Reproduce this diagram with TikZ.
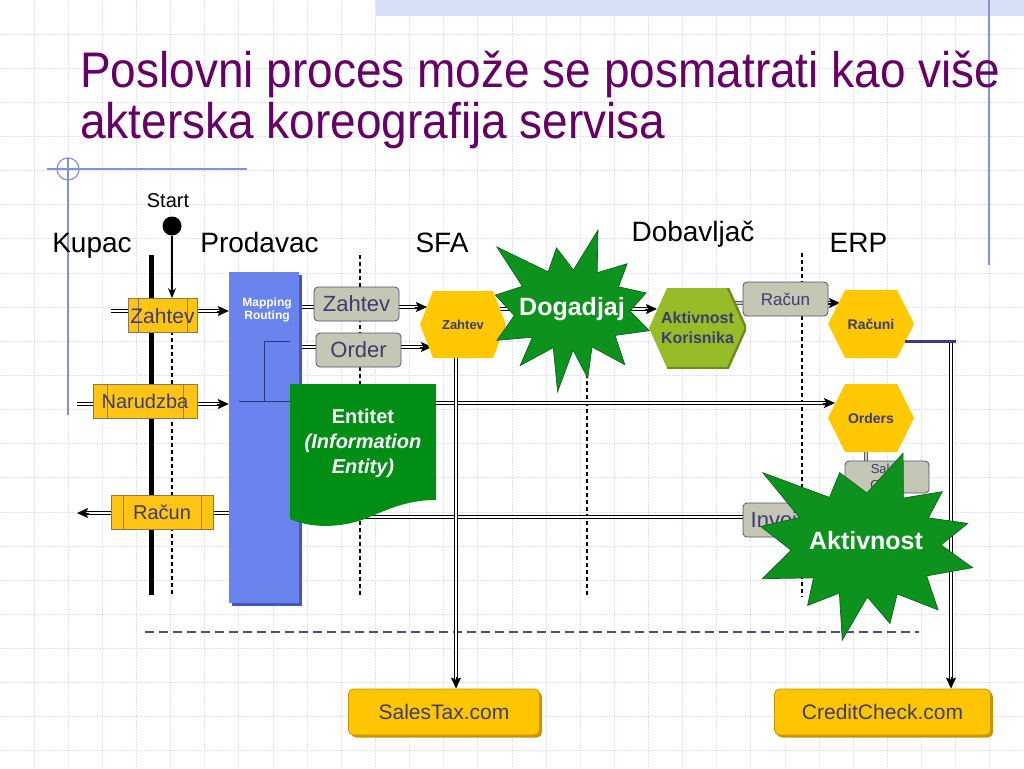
\documentclass[tikz,border=0pt]{standalone}
\usepackage{fontspec}
\setmainfont{Liberation Sans}
\usetikzlibrary{arrows.meta,calc}
\pgfdeclarelayer{gridl}
\pgfdeclarelayer{conn}
\pgfsetlayers{gridl,conn,main}
\definecolor{titlepurple}{RGB}{102,0,102}
\definecolor{gridc}{RGB}{224,224,242}
\definecolor{bandc}{RGB}{214,224,246}
\definecolor{decob}{RGB}{130,146,226}
\definecolor{boxy}{RGB}{255,196,20}
\definecolor{boxyb}{RGB}{140,120,80}
\definecolor{hexy}{RGB}{255,200,0}
\definecolor{grayb}{RGB}{198,198,180}
\definecolor{grayd}{RGB}{80,80,120}
\definecolor{txt}{RGB}{60,60,112}
\definecolor{mapb}{RGB}{106,132,238}
\definecolor{mapd}{RGB}{70,88,190}
\definecolor{mapl}{RGB}{40,55,140}
\definecolor{starg}{RGB}{14,146,30}
\definecolor{stard}{RGB}{10,100,25}
\definecolor{entg}{RGB}{0,142,20}
\definecolor{hexg}{RGB}{150,188,40}
\definecolor{hexgd}{RGB}{110,140,30}
\definecolor{svcy}{RGB}{255,198,0}
\definecolor{svcd}{RGB}{196,150,0}
\definecolor{erpb}{RGB}{58,58,140}
\definecolor{hdash}{RGB}{80,80,112}
\newcommand\myhex[2]{\fill[#1] ([xshift=#2]path picture bounding box.north west) -- ([xshift=-#2]path picture bounding box.north east) -- (path picture bounding box.east) -- ([xshift=-#2]path picture bounding box.south east) -- ([xshift=#2]path picture bounding box.south west) -- (path picture bounding box.west) -- cycle;}
\newcommand\myhexb[3]{\fill[#1] ([xshift=#3]path picture bounding box.north west) -- ([xshift=-#3]path picture bounding box.north east) -- (path picture bounding box.east) -- ([xshift=-#3]path picture bounding box.south east) -- ([xshift=#3]path picture bounding box.south west) -- (path picture bounding box.west) -- cycle;
\draw[#2,line width=2.4pt] ([xshift=-#3]path picture bounding box.north east) -- (path picture bounding box.east) -- ([xshift=-#3]path picture bounding box.south east) -- ([xshift=#3]path picture bounding box.south west);}
\newcommand\dblarr[2]{\draw[dbl,shorten >=7pt] (#1) -- (#2); \draw[tipst] ($(#2)!12pt!(#1)$) -- (#2);}
\tikzset{
  gridline/.style={gridc,line width=0.9pt,dash pattern=on 2pt off 1pt},
  lbl/.style={font=\fontsize{28}{30}\selectfont,anchor=base,inner sep=0pt},
  ybox/.style={draw=boxyb,fill=boxy,line width=0.8pt,text=txt,inner sep=0pt,
    font=\fontsize{20}{22}\selectfont,minimum height=34pt,
    path picture={\draw[boxyb,line width=0.8pt] ([xshift=#1]path picture bounding box.north west) -- ([xshift=#1]path picture bounding box.south west) ([xshift=-#1]path picture bounding box.north east) -- ([xshift=-#1]path picture bounding box.south east);}},
  gbox/.style={draw=grayd,fill=grayb,rounded corners=4pt,line width=0.8pt,text=txt,inner sep=0pt,minimum width=85pt,minimum height=34pt,font=\fontsize{22}{24}\selectfont},
  hexn/.style={inner sep=0pt,text=txt,align=center,font=\bfseries\fontsize{14}{17}\selectfont},
  svc/.style={fill=svcy,draw=svcd,line width=0.8pt,rounded corners=5pt,text=txt,inner sep=0pt,
    font=\fontsize{21}{23}\selectfont,minimum height=46pt,
    preaction={fill=svcd,transform canvas={shift={(2.5pt,-2.5pt)}}}},
  dbl/.style={draw=black,line width=1pt,double=white,double distance=1.4pt},
  dblg/.style={draw=black!65,line width=1pt,double=white!80!black,double distance=1.4pt},
  tipst/.style={black,line width=1pt,-{Stealth[length=11pt,width=10pt,inset=2pt]}},
  startxt/.style={text=white,font=\bfseries\fontsize{25}{27}\selectfont,inner sep=0pt},
  starshape/.style={fill=starg,draw=stard,line width=0.7pt,line join=miter},
  titlest/.style={anchor=base west,inner sep=0pt,text=titlepurple,font=\fontsize{50}{52}\selectfont},
}
\begin{document}
\begin{tikzpicture}[x=1pt,y=-1pt]
\useasboundingbox (0,0) rectangle (1024,768);
\begin{pgfonlayer}{gridl}
  \fill[white] (0,0) rectangle (1024,768);
  \foreach \i in {1,...,29}{\draw[gridline] ({\i*34.1333},0) -- ({\i*34.1333},768);}
  \foreach \j in {1,...,22}{\draw[gridline] (0,{\j*34.1333}) -- (1024,{\j*34.1333});}
  \fill[bandc] (376,0) rectangle (1024,16);
  \draw[decob,line width=1.2pt] (989,0) -- (989,265);
  \draw[decob,line width=1.2pt] (47,169) -- (247,169) (68,158) -- (68,415);
  \draw[decob,line width=1.2pt] (68,169) circle[radius=11];
  % lifelines
  \draw[black,line width=5pt] (151,255) -- (151,595);
  \draw[black,line width=1.2pt,dash pattern=on 4pt off 3pt] (172,331) -- (172,597);
  \draw[black,line width=1.2pt,dash pattern=on 4pt off 3pt] (360,255) -- (360,597);
  \draw[black,line width=1.2pt,dash pattern=on 4pt off 3pt] (587,255) -- (587,597);
  \draw[black,line width=1.2pt,dash pattern=on 4pt off 3pt] (802,253) -- (802,597);
  \draw[hdash,line width=1.1pt,dash pattern=on 9pt off 5pt] (145,632) -- (919,632);
\end{pgfonlayer}

% title
\node[titlest] (t1) at (80,87) {\scalebox{0.92}[1]{Poslovni proces može se posmatrati kao više}};
\node[titlest] (t2) at (80,138) {\scalebox{0.92}[1]{akterska koreografija servisa}};

% lane labels
\node[lbl] (kupac) at (92,252) {Kupac};
\node[lbl] (prodavac) at (259.5,252) {Prodavac};
\node[lbl] (sfa) at (442,252) {SFA};
\node[lbl] (dobavljac) at (693,241) {Dobavljač};
\node[lbl] (erp) at (858.5,252) {ERP};
\node[anchor=base,inner sep=0pt,font=\fontsize{20}{22}\selectfont] (startl) at (168,207) {Start};
\node[circle,fill=black,minimum size=19pt,inner sep=0pt] (st) at (172,226) {};

% mapping/routing
\node[fill=mapb,minimum width=70pt,minimum height=331pt,inner sep=0pt,
  preaction={fill=mapd,transform canvas={shift={(3pt,-3pt)}}}] (map) at (264,437.5) {};
\node[text=white,align=center,inner sep=0pt,font=\bfseries\fontsize{12}{13}\selectfont] (maptxt) at (267,310) {Mapping\\Routing};
\draw[mapl,line width=0.8pt] (290,341) -- (264,341) -- (264,401) (239,401) -- (299,401);

% Kupac boxes
\node[ybox=10pt,minimum width=69pt,font=\fontsize{21}{23}\selectfont] (zk) at (162.5,315.5) {Zahtev};
\node[ybox=14pt,minimum width=104pt] (nk) at (145,401) {Narudzba};
\node[ybox=12pt,minimum width=102pt] (rk) at (162,512) {Račun};

% SFA boxes
\node[gbox] (gz) at (356.5,304) {Zahtev};
\node[gbox] (go) at (358.5,350) {Order};
\node[hexn,minimum width=86pt,minimum height=67pt,font=\bfseries\fontsize{13}{15}\selectfont,path picture={\myhex{hexy}{13pt}}] (zh) at (463,324.5) {Zahtev};

% Dobavljac
\node[hexn,minimum width=97pt,minimum height=80pt,font=\bfseries\fontsize{16}{20}\selectfont,path picture={\myhexb{hexg}{hexgd}{18pt}}] (akh) at (697.5,328) {Aktivnost\\Korisnika};

% ERP
\node[gbox,font=\fontsize{17}{19}\selectfont] (grk) at (785.5,299) {Račun};
\node[hexn,minimum width=86pt,minimum height=68pt,path picture={\myhex{hexy}{17pt}}] (rh) at (871,324) {Računi};
\node[hexn,minimum width=86pt,minimum height=68pt,path picture={\myhex{hexy}{17pt}}] (oh) at (871,418) {Orders};
\node[gbox,minimum width=84pt,minimum height=32pt,align=center,font=\fontsize{13}{16}\selectfont] (sob) at (887,477) {Sales\\Order};
\node[gbox] (ib) at (785.5,520) {Invoice};

% services
\node[svc,minimum width=191pt] (stx) at (444,712) {SalesTax.com};
\node[svc,minimum width=216pt] (cc) at (882.5,712) {CreditCheck.com};

% connectors
\begin{pgfonlayer}{conn}
  \coordinate (x0) at (172,0);
  \draw[line width=1.3pt,-{Stealth[length=10pt,width=8pt]}] (x0 |- st.south) -- (x0 |- zk.north);
  \coordinate (zkL) at (111,311);
  \draw[dbl] (zkL) -- (zk.west |- zkL);
  \coordinate (zkR) at (zk.east |- zkL); \coordinate (zkM) at (map.west |- zkL);
  \dblarr{zkR}{zkM}
  \coordinate (nkL) at (77,404);
  \draw[dbl] (nkL) -- (nk.west |- nkL);
  \coordinate (nkR) at (nk.east |- nkL); \coordinate (nkM) at (map.west |- nkL);
  \dblarr{nkR}{nkM}
  \coordinate (rkL) at (77,513); \coordinate (rkW) at (rk.west |- rkL);
  \dblarr{rkW}{rkL}
  \draw[dbl] (rk.east |- rkL) -- (map.west |- rkL);
  \coordinate (y1) at (0,307);
  \draw[dbl] (map.east |- y1) -- (gz.west |- y1);
  \coordinate (gzR) at (gz.east |- y1); \coordinate (zhA) at (427,307);
  \dblarr{gzR}{zhA}
  \coordinate (y2) at (0,347);
  \draw[dbl] (map.east |- y2) -- (go.west |- y2);
  \coordinate (goR) at (go.east |- y2); \coordinate (zhB) at (432,347);
  \dblarr{goR}{zhB}
  \coordinate (y3) at (0,403); \coordinate (mO) at (map.east |- y3); \coordinate (ohA) at (835,403);
  \dblarr{mO}{ohA}
  \coordinate (y4) at (0,517);
  \draw[dbl] (map.east |- y4) -- (ib.west |- y4);
  \coordinate (zhR) at (500,309); \coordinate (akA) at (657,309);
  \dblarr{zhR}{akA}
  \coordinate (x1) at (456,0); \coordinate (zhS) at (x1 |- zh.south); \coordinate (stN) at (x1 |- stx.north);
  \dblarr{zhS}{stN}
  \coordinate (akR) at (733,303);
  \draw[dblg] (akR) -- (grk.west |- akR);
  \coordinate (grR) at (grk.east |- akR); \coordinate (rhA) at (840,303);
  \dblarr{grR}{rhA}
  \coordinate (rhR) at (905,341); \coordinate (bend) at (951,341); \coordinate (barE) at (956,341);
  \coordinate (ccN) at (bend |- cc.north);
  \dblarr{bend}{ccN}
  \coordinate (x3) at (866,0); \coordinate (soD) at (866,512);
  \draw[dblg] (x3 |- oh.south) -- (x3 |- sob.north);
  \draw[dblg] (x3 |- sob.south) -- (soD);
\end{pgfonlayer}
\draw[erpb,line width=3pt] (rhR) -- (barE);

% Entitet
\fill[entg] (290,384) -- (436,384) -- (436,500) .. controls (412,500) and (395,506) .. (372,516) .. controls (348,527) and (315,530) .. (290,519) -- cycle;
\node[align=center,text=white,inner sep=0pt,font=\bfseries\fontsize{20}{25}\selectfont] (en) at (363,443) {Entitet\\\textit{(Information}\\\textit{Entity)}};

% stars
\coordinate (dgc) at (572,310);
\path[starshape] (dgc) +(-72:84) -- +(-56:45) -- +(-40:72) -- +(-26.5:52) -- +(-13:76) -- +(1:58) -- +(15:80) -- +(30.5:50) -- +(46:76) -- +(61.5:42) -- +(77:70) -- +(88.5:40) -- +(100:83) -- +(116.5:42) -- +(133:76) -- +(145.5:48) -- +(158:81) -- +(174.5:58) -- +(191:78) -- +(205.5:55) -- +(220:98) -- +(238:45) -- +(256:64) -- +(272:40) -- cycle;
\node[startxt] (dg) at (572,309) {Dogadjaj};
\coordinate (akc) at (866,545);
\path[starshape] (akc) +(-68:99) -- +(-51.5:60) -- +(-35:93) -- +(-23.5:68) -- +(-12:104) -- +(0:75) -- +(12:109) -- +(27:68) -- +(42:97) -- +(57.5:58) -- +(73:82) -- +(88.5:52) -- +(104:98) -- +(119:55) -- +(134:84) -- +(148:62) -- +(162:109) -- +(176:75) -- +(190:107) -- +(202.5:72) -- +(215:126) -- +(232.5:60) -- +(250:77) -- +(271:52) -- cycle;
\node[startxt] (akt) at (866,541) {Aktivnost};
\end{tikzpicture}
\end{document}
